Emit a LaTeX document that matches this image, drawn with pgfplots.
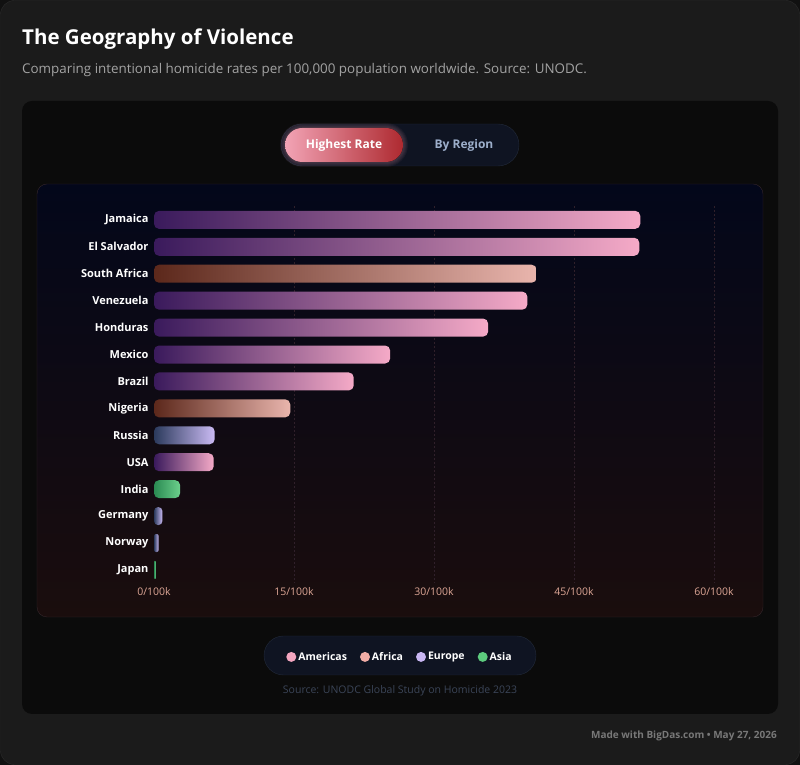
\documentclass[border=0pt]{standalone}
\usepackage{pgfplots}
\pgfplotsset{compat=1.18}
\usepackage{fontspec}
\setmainfont{Open Sans}

% page and panel colours
\definecolor{pagebg}{HTML}{111111}
\definecolor{cardbg}{HTML}{1B1B1B}
\definecolor{cardline}{HTML}{2B2B2B}
\definecolor{panelbg}{HTML}{0B0B0B}
\definecolor{charttop}{HTML}{03071A}
\definecolor{chartbot}{HTML}{1A0D0D}
\definecolor{chartline}{HTML}{35262B}
\definecolor{pillbg}{HTML}{0F1422}
\definecolor{pillline}{HTML}{222A3A}
\definecolor{btnleft}{HTML}{F2A3B5}
\definecolor{btnright}{HTML}{AE2A30}
\definecolor{bytext}{HTML}{9DAFCB}
\definecolor{subtext}{HTML}{A3A3A3}
\definecolor{ticktext}{HTML}{DDA696}
\definecolor{gridc}{HTML}{30202A}
\definecolor{sourcetext}{HTML}{3B4558}
\definecolor{foottext}{HTML}{787878}
% region gradients (start -> end of bar)
\definecolor{amL}{HTML}{3A1A5C}\definecolor{amR}{HTML}{F5AAC7}
\definecolor{afL}{HTML}{5C281B}\definecolor{afR}{HTML}{E9B5AD}
\definecolor{euL}{HTML}{2B3A5C}\definecolor{euR}{HTML}{CBBBF4}
\definecolor{asL}{HTML}{2A8A52}\definecolor{asR}{HTML}{6CD08C}
% legend dots
\definecolor{legAm}{HTML}{F4A6C0}
\definecolor{legAf}{HTML}{F0ACA5}
\definecolor{legEu}{HTML}{C8B6F2}
\definecolor{legAs}{HTML}{5DCB7E}

\pgfplotsset{
  rate bar/.style={xbar, bar width=18pt, bar shift=0pt, draw=none, forget plot, rounded corners=5pt},
  americas/.style={rate bar, left color=amL, right color=amR},
  africa/.style={rate bar, left color=afL, right color=afR},
  europe/.style={rate bar, left color=euL, right color=euR},
  asia/.style={rate bar, left color=asL, right color=asR},
}

\begin{document}
\begin{tikzpicture}[x=1pt,y=1pt]
  % card
  \fill[pagebg] (0,0) rectangle (800,765);
  \filldraw[fill=cardbg, draw=cardline, rounded corners=14pt] (0.5,0.5) rectangle (799.5,764.5);
  \node[anchor=base west, text=white, font=\bfseries\fontsize{20.5}{24}\selectfont, inner sep=0pt] at (22,720) {The Geography of Violence};
  \node[anchor=base west, text=subtext, font=\fontsize{13.4}{16}\selectfont, inner sep=0pt] at (22,691) {Comparing intentional homicide rates per 100,000 population worldwide. Source: UNODC.};
  % inner panel
  \fill[panelbg, rounded corners=10pt] (22,51) rectangle (778,664);
  % toggle
  \filldraw[fill=pillbg, draw=pillline, rounded corners=21pt] (281,599) rectangle (519,641);
  \foreach \g in {1,2,3,4,5}{
    \fill[btnleft, opacity=0.05, rounded corners=17pt+\g pt] (285-\g,603-\g) rectangle (403+\g,637+\g);
  }
  \fill[left color=btnleft, right color=btnright, rounded corners=17pt] (285,603) rectangle (403,637);
  \node[text=white, font=\bfseries\fontsize{12}{15}\selectfont] at (344,620) {Highest Rate};
  \node[text=bytext, font=\bfseries\fontsize{12}{15}\selectfont] at (464,620) {By Region};
  % chart panel
  \draw[top color=charttop, bottom color=chartbot, draw=chartline, rounded corners=10pt] (37,148) rectangle (763,581);
  % legend pill
  \filldraw[fill=pillbg, draw=pillline, rounded corners=19.5pt] (264,90) rectangle (536,129);
  \node[text=sourcetext, font=\fontsize{10.5}{12}\selectfont] at (400,74) {Source: UNODC Global Study on Homicide 2023};
  \node[anchor=east, inner sep=0pt, text=foottext, font=\bfseries\fontsize{10}{12}\selectfont] at (777,29) {Made with BigDas.com • May 27, 2026};

  \begin{axis}[
    at={(154pt,558.6pt)}, anchor=north west,
    scale only axis, width=560pt, height=377pt,
    xmin=0, xmax=60, ymin=-0.5, ymax=13.5, y dir=reverse,
    axis line style={draw=none}, tick style={draw=none},
    xtick={15,30,45,60},
    xticklabels={15/100k,30/100k,45/100k,60/100k},
    extra x ticks={0}, extra x tick labels={0/100k},
    extra x tick style={grid=none},
    xmajorgrids,
    major grid style={gridc, line width=0.8pt, dash pattern=on 1.5pt off 2.5pt},
    xticklabel style={font=\fontsize{10.5}{12}\selectfont, text=ticktext, yshift=-1pt},
    ytick={0,...,13},
    yticklabels={Jamaica,El Salvador,South Africa,Venezuela,Honduras,Mexico,Brazil,Nigeria,Russia,USA,India,Germany,Norway,Japan},
    yticklabel style={font=\bfseries\fontsize{11}{13}\selectfont, text=white, xshift=-2pt},
    legend style={at={(0.4393,-0.195)}, anchor=center, draw=none, fill=none,
      legend columns=4, font=\bfseries\fontsize{10.5}{12}\selectfont, text=white,
      /tikz/every even column/.append style={column sep=11pt}},
    legend image code/.code={\fill (3pt,0pt) circle (5pt);},
  ]
    \addplot[americas] coordinates {(52.1,0)};
    \addplot[americas] coordinates {(52.0,1)};
    \addplot[africa]   coordinates {(41.0,2)};
    \addplot[americas] coordinates {(40.0,3)};
    \addplot[americas] coordinates {(35.8,4)};
    \addplot[americas] coordinates {(25.3,5)};
    \addplot[americas] coordinates {(21.4,6)};
    \addplot[africa]   coordinates {(14.6,7)};
    \addplot[europe]   coordinates {(6.5,8)};
    \addplot[americas] coordinates {(6.4,9)};
    \addplot[asia]     coordinates {(2.8,10)};
    \addplot[europe, rounded corners=4pt] coordinates {(0.9,11)};
    \addplot[europe, rounded corners=2pt] coordinates {(0.5,12)};
    \addplot[asia, rounded corners=0.8pt] coordinates {(0.2,13)};

    \addlegendimage{fill=legAm, draw=none}\addlegendentry{Americas}
    \addlegendimage{fill=legAf, draw=none}\addlegendentry{Africa}
    \addlegendimage{fill=legEu, draw=none}\addlegendentry{Europe}
    \addlegendimage{fill=legAs, draw=none}\addlegendentry{Asia}
  \end{axis}
\end{tikzpicture}
\end{document}
